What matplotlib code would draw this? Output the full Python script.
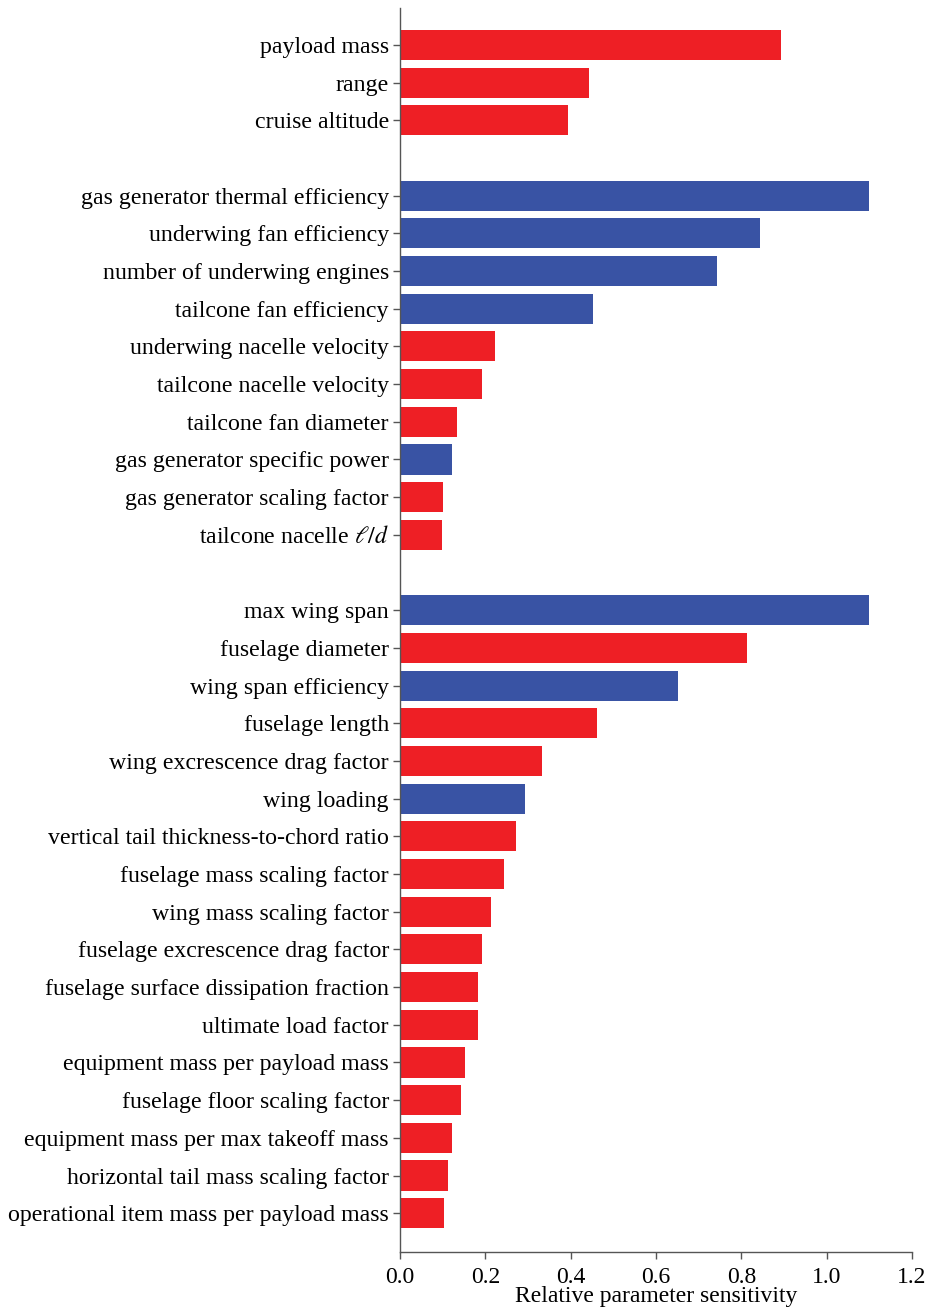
import matplotlib
matplotlib.use("Agg")
import matplotlib.pyplot as plt

plt.rcParams['font.family'] = ['Liberation Serif', 'DejaVu Serif']
plt.rcParams['mathtext.fontset'] = 'stix'

RED = '#EE1F25'
BLUE = '#3953A4'

# Parameter groups (mission, propulsion, airframe)
mission_labels = ['payload mass', 'range', 'cruise altitude']
mission_values = [0.893, 0.443, 0.394]
mission_signs = ['+', '+', '+']

propulsion_labels = [
    'gas generator thermal efficiency',
    'underwing fan efficiency',
    'number of underwing engines',
    'tailcone fan efficiency',
    'underwing nacelle velocity',
    'tailcone nacelle velocity',
    'tailcone fan diameter',
    'gas generator specific power',
    'gas generator scaling factor',
    r'tailcone nacelle $\ell/d$',
]
propulsion_values = [1.10, 0.844, 0.743, 0.452, 0.223, 0.192, 0.134, 0.122, 0.101, 0.098]
propulsion_signs = ['-', '-', '-', '-', '+', '+', '+', '-', '+', '+']

airframe_labels = [
    'max wing span',
    'fuselage diameter',
    'wing span efficiency',
    'fuselage length',
    'wing excrescence drag factor',
    'wing loading',
    'vertical tail thickness-to-chord ratio',
    'fuselage mass scaling factor',
    'wing mass scaling factor',
    'fuselage excrescence drag factor',
    'fuselage surface dissipation fraction',
    'ultimate load factor',
    'equipment mass per payload mass',
    'fuselage floor scaling factor',
    'equipment mass per max takeoff mass',
    'horizontal tail mass scaling factor',
    'operational item mass per payload mass',
]
airframe_values = [1.10, 0.813, 0.652, 0.462, 0.333, 0.293, 0.272, 0.244, 0.213,
                   0.192, 0.183, 0.183, 0.152, 0.143, 0.122, 0.112, 0.103]
airframe_signs = ['-', '+', '-', '+', '+', '-', '+', '+', '+',
                  '+', '+', '+', '+', '+', '+', '+', '+']

groups = [
    (mission_labels, mission_values, mission_signs),
    (propulsion_labels, propulsion_values, propulsion_signs),
    (airframe_labels, airframe_values, airframe_signs),
]

positions, labels, values, colors = [], [], [], []
pos = 0
for gi, (labs, vals, sgns) in enumerate(groups):
    if gi > 0:
        pos += 1  # blank slot between groups
    for lab, val, sg in zip(labs, vals, sgns):
        positions.append(pos)
        labels.append(lab)
        values.append(val)
        colors.append(RED if sg == '+' else BLUE)
        pos += 1

fig = plt.figure(figsize=(9.3, 13.08), dpi=100)
ax = fig.add_axes([0.4301, 0.0428, 0.9806 - 0.4301, 0.9939 - 0.0428])

ax.barh(positions, values, height=0.8, color=colors, edgecolor='none')

ax.set_yticks(positions)
ax.set_yticklabels(labels, fontsize=17.2)
ax.set_ylim(pos - 1 + 1.03, -0.98)
ax.set_xlim(0, 1.2)
ax.set_xticks([0.0, 0.2, 0.4, 0.6, 0.8, 1.0, 1.2])
ax.set_xticklabels(['0.0', '0.2', '0.4', '0.6', '0.8', '1.0', '1.2'], fontsize=17)
ax.set_xlabel('Relative parameter sensitivity', fontsize=17)
ax.xaxis.set_label_coords(0.5, -0.0354)
ax.xaxis.label.set_verticalalignment('center')

for side in ('top', 'right'):
    ax.spines[side].set_visible(False)
for side in ('left', 'bottom'):
    ax.spines[side].set_color('#555555')
    ax.spines[side].set_linewidth(1.0)
ax.tick_params(axis='both', direction='out', color='#555555', length=5, width=1.0)
ax.tick_params(axis='y', pad=3)
ax.tick_params(axis='x', pad=5.5)

fig.savefig('out.png', dpi=100)
